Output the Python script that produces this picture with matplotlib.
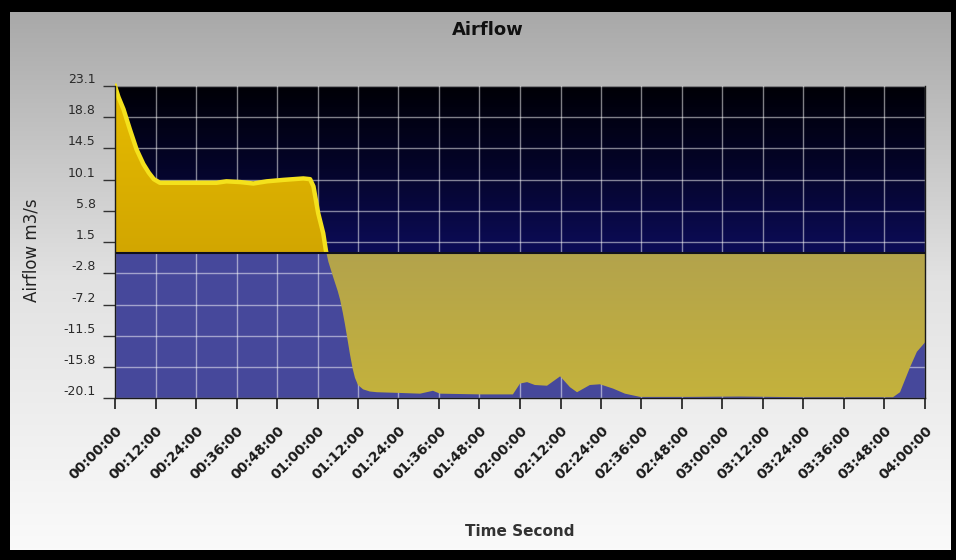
import numpy as np
import matplotlib
matplotlib.use("Agg")
import matplotlib.pyplot as plt
from matplotlib.colors import LinearSegmentedColormap
from matplotlib.patches import Rectangle
import matplotlib.transforms as mtransforms

# ---- data (time in minutes, airflow in m3/s) ----
time_min = [0, 1, 2.5, 4.4, 6.4, 8.4, 10, 11.5, 13.3, 20, 30.1, 33, 37, 41, 45,
            49.9, 55.8, 57.8, 58.8, 60.2, 61.7, 62.5, 63.2, 64.6, 66, 66.7,
            67.5, 68.1, 69, 69.6, 70.4, 71.1, 72, 73.5, 75.5, 77.6, 84.4, 90.4,
            94.2, 96.3, 108.1, 117.9, 120, 122.1, 124.4, 128, 131.9, 134.8,
            136.9, 140.7, 143.7, 147.6, 151.1, 155.6, 170, 185, 195, 205, 215,
            225, 230.5, 232.6, 235.6, 237.6, 240]
airflow = [23.1, 21.6, 19.9, 17.1, 14.3, 12.3, 11.1, 10.2, 9.7, 9.7, 9.7, 9.9,
           9.8, 9.6, 9.9, 10.1, 10.3, 10.2, 9.2, 5.5, 2.7, 0.3, -1.2, -3.3,
           -5.3, -6.5, -8.3, -9.8, -12.3, -14.0, -16.0, -17.3, -18.3, -18.9,
           -19.2, -19.3, -19.4, -19.5, -19.1, -19.5, -19.6, -19.6, -18.1, -17.9,
           -18.3, -18.4, -17.1, -18.6, -19.3, -18.3, -18.2, -18.8, -19.5,
           -19.95, -19.95, -19.9, -19.95, -20.0, -20.0, -20.0, -20.0, -19.3,
           -15.8, -13.7, -12.4]

tick_minutes = list(range(0, 241, 12))
tick_labels = ["00:00:00", "00:12:00", "00:24:00", "00:36:00", "00:48:00",
               "01:00:00", "01:12:00", "01:24:00", "01:36:00", "01:48:00",
               "02:00:00", "02:12:00", "02:24:00", "02:36:00", "02:48:00",
               "03:00:00", "03:12:00", "03:24:00", "03:36:00", "03:48:00",
               "04:00:00"]
y_ticks = [23.1, 18.8, 14.5, 10.1, 5.8, 1.5, -2.8, -7.2, -11.5, -15.8, -20.1]
y_labels = ["23.1", "18.8", "14.5", "10.1", "5.8", "1.5", "-2.8", "-7.2",
            "-11.5", "-15.8", "-20.1"]

t = np.array(time_min, dtype=float)
v = np.array(airflow, dtype=float)
ymin, ymax = -20.1, 23.1
xmin, xmax = 0, 240

fig = plt.figure(figsize=(9.56, 5.6), dpi=100)

# figure background gradient
bg = fig.add_axes([0, 0, 1, 1], zorder=-10)
bg.axis("off")
grad = np.linspace(0, 1, 256).reshape(-1, 1)
bg_cmap = LinearSegmentedColormap.from_list("bg", ["#fbfbfb", "#e2e2e2", "#a6a6a6"])
bg.imshow(grad, cmap=bg_cmap, aspect="auto", extent=[0, 1, 0, 1], origin="lower")
bg.set_xlim(0, 1)
bg.set_ylim(0, 1)

# black frame
for (x0, y0, w, h) in [(0, 0, 10 / 956, 1), (0, 1 - 12 / 560, 1, 12 / 560),
                       (1 - 5 / 956, 0, 5 / 956, 1), (0, 0, 1, 10 / 560)]:
    fig.patches.append(Rectangle((x0, y0), w, h, transform=fig.transFigure,
                                 facecolor="black", edgecolor="none", zorder=5))

ax = fig.add_axes([115 / 956, 1 - 398 / 560, 810 / 956, 312 / 560])
ax.set_xlim(xmin, xmax)
ax.set_ylim(ymin, ymax)
ax.set_axisbelow(True)

# plot-area backgrounds
up_cmap = LinearSegmentedColormap.from_list("up", ["#0c0c58", "#04042a", "#000006"])
ax.imshow(grad, cmap=up_cmap, aspect="auto", extent=[xmin, xmax, 0, ymax],
          origin="lower", zorder=0)
ax.add_patch(Rectangle((xmin, ymin), xmax - xmin, -ymin, facecolor="#46489b",
                       edgecolor="none", zorder=0))

ax.grid(True, color="white", alpha=0.5, linewidth=1)

# fills
pos = ax.fill_between(t, 0, v, where=v >= 0, interpolate=True,
                      facecolor="none", edgecolor="none", zorder=2)
neg = ax.fill_between(t, v, 0, where=v <= 0, interpolate=True,
                      facecolor="none", edgecolor="none", zorder=2)
ycmap = LinearSegmentedColormap.from_list("y", ["#d2a600", "#e6bc00"])
im1 = ax.imshow(grad, cmap=ycmap, aspect="auto", extent=[xmin, xmax, 0, ymax],
                origin="lower", zorder=2)
im1.set_clip_path(pos.get_paths()[0], transform=ax.transData)
ocmap = LinearSegmentedColormap.from_list("o", ["#c4b23c", "#b3a34c"])
im2 = ax.imshow(grad, cmap=ocmap, aspect="auto", extent=[xmin, xmax, ymin, 0],
                origin="lower", zorder=2)
im2.set_clip_path(neg.get_paths()[0], transform=ax.transData)

line, = ax.plot(t, v, color="#f4e11c", linewidth=3.2, zorder=3,
                solid_joinstyle="round")
line.set_clip_path(Rectangle((xmin, 0), xmax - xmin, ymax + 5,
                             transform=ax.transData))

ax.axhline(0, color="#10101c", linewidth=1.5, zorder=4)

ax.set_xlim(xmin, xmax)
ax.set_ylim(ymin, ymax)

for s in ax.spines.values():
    s.set_color("#1a1a1a")
    s.set_linewidth(1)
    s.set_zorder(5)
ax.spines["top"].set_visible(False)

ax.set_yticks(y_ticks)
ax.set_yticklabels(y_labels, va="bottom", fontsize=9, color="#2a2a2a")
ax.tick_params(axis="y", length=9, width=1, color="#333333", pad=5)

ax.set_xticks(tick_minutes)
ax.set_xticklabels(tick_labels, rotation=45, ha="right", va="center",
                   rotation_mode="anchor", fontsize=10, fontweight="bold",
                   color="#1a1a1a")
ax.tick_params(axis="x", length=8, width=1.2, color="#1a1a1a", pad=14)
offset = mtransforms.ScaledTranslation(5 / 100, 0, fig.dpi_scale_trans)
for lbl in ax.get_xticklabels():
    lbl.set_transform(lbl.get_transform() + offset)

fig.text(488 / 956, 1 - 30 / 560, "Airflow", ha="center", va="center",
         fontsize=13, fontweight="bold", color="#111111")
fig.text(32 / 956, 1 - 250 / 560, "Airflow m3/s", ha="center", va="center",
         rotation=90, fontsize=12, color="#222222")
fig.text(520 / 956, 1 - 532 / 560, "Time Second", ha="center", va="center",
         fontsize=11, fontweight="bold", color="#333333")

fig.savefig("out.png", dpi=100)
